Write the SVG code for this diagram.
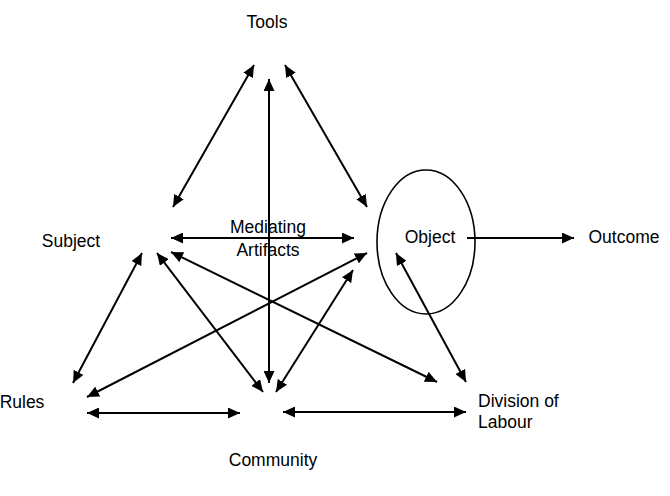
<svg xmlns="http://www.w3.org/2000/svg" width="670" height="496" viewBox="0 0 670 496">
<defs>
<marker id="ah" markerUnits="userSpaceOnUse" markerWidth="13" markerHeight="11" refX="12" refY="5.5" orient="auto-start-reverse">
<path d="M0,0 L12,5.5 L0,11 z" fill="#000"/>
</marker>
<style>
text{font-family:"Liberation Sans",Arial,sans-serif;font-size:17.5px;fill:#000}
.c{stroke:#000;stroke-width:2;fill:none}
.d{marker-start:url(#ah);marker-end:url(#ah)}
.s{marker-end:url(#ah)}
</style>
</defs>
<rect width="670" height="496" fill="#fff"/>
<g id="tools"><text x="267" y="28" text-anchor="middle">Tools</text></g>
<g id="mediating"><text x="268" y="233" text-anchor="middle">Mediating</text><text x="268" y="256" text-anchor="middle">Artifacts</text></g>
<g id="subject"><text x="71" y="247" text-anchor="middle">Subject</text></g>
<g id="object"><ellipse cx="426" cy="242" rx="49" ry="72" fill="none" stroke="#000" stroke-width="1.6"/><text x="430" y="243" text-anchor="middle">Object</text></g>
<g id="outcome"><text x="624" y="243" text-anchor="middle">Outcome</text></g>
<g id="rules"><text x="22" y="408" text-anchor="middle">Rules</text></g>
<g id="community"><text x="273" y="466" text-anchor="middle">Community</text></g>
<g id="division"><text x="478" y="407">Division of</text><text x="478" y="428">Labour</text></g>
<g id="connectors">
<line class="c d" x1="254" y1="65" x2="173" y2="207"/>
<line class="c d" x1="285" y1="65" x2="367" y2="207"/>
<line class="c d" x1="269" y1="79" x2="269" y2="383"/>
<line class="c d" x1="171" y1="238" x2="354" y2="238"/>
<line class="c d" x1="142" y1="253" x2="73" y2="383"/>
<line class="c d" x1="157" y1="253" x2="263" y2="392"/>
<line class="c d" x1="171" y1="252" x2="437" y2="382"/>
<line class="c d" x1="87" y1="397" x2="367" y2="253"/>
<line class="c d" x1="276" y1="392" x2="353" y2="270"/>
<line class="c d" x1="87" y1="413" x2="240" y2="413"/>
<line class="c d" x1="283" y1="412" x2="466" y2="412"/>
<line class="c d" x1="396" y1="253" x2="466" y2="382"/>
<line class="c s" x1="467" y1="238" x2="574" y2="238"/>
</g>
</svg>
